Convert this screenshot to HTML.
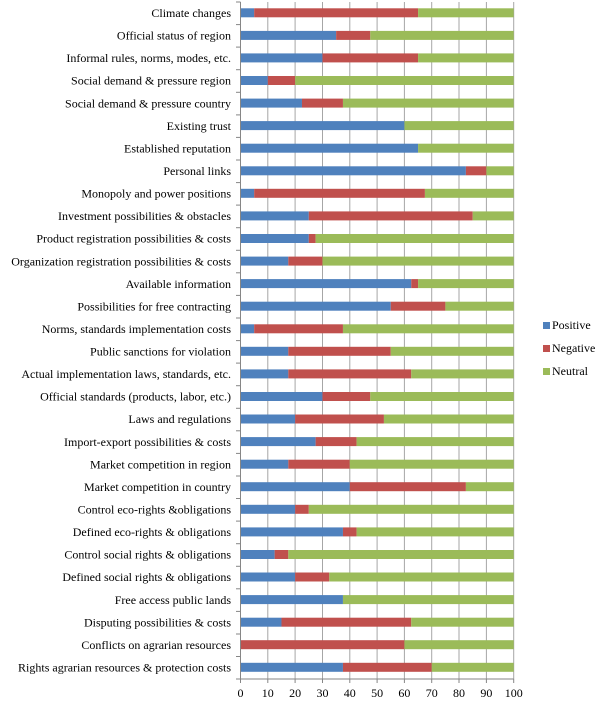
<!DOCTYPE html>
<html><head><meta charset="utf-8"><style>
html,body{margin:0;padding:0;background:#fff}
svg{display:block;font-family:"Liberation Serif",serif;font-size:12px}
</style></head><body>
<svg width="600" height="703" viewBox="0 0 600 703">
<g stroke="#a6a6a6" stroke-width="1">
<line x1="267.8" y1="2" x2="267.8" y2="679"/><line x1="295.1" y1="2" x2="295.1" y2="679"/><line x1="322.5" y1="2" x2="322.5" y2="679"/><line x1="349.8" y1="2" x2="349.8" y2="679"/><line x1="377.1" y1="2" x2="377.1" y2="679"/><line x1="404.4" y1="2" x2="404.4" y2="679"/><line x1="431.7" y1="2" x2="431.7" y2="679"/><line x1="459.0" y1="2" x2="459.0" y2="679"/><line x1="486.4" y1="2" x2="486.4" y2="679"/><line x1="513.7" y1="2" x2="513.7" y2="679"/>
</g>
<g transform="translate(240.5,0) scale(2.732,1)">
<g fill="#4f81bd">
<rect x="0" y="8.3" width="5" height="9"/><rect x="0" y="30.9" width="35" height="9"/><rect x="0" y="53.4" width="30" height="9"/><rect x="0" y="76" width="10" height="9"/><rect x="0" y="98.6" width="22.5" height="9"/><rect x="0" y="121.1" width="60" height="9"/><rect x="0" y="143.7" width="65" height="9"/><rect x="0" y="166.3" width="82.5" height="9"/><rect x="0" y="188.8" width="5" height="9"/><rect x="0" y="211.4" width="25" height="9"/><rect x="0" y="234" width="25" height="9"/><rect x="0" y="256.6" width="17.5" height="9"/><rect x="0" y="279.1" width="62.5" height="9"/><rect x="0" y="301.7" width="55" height="9"/><rect x="0" y="324.3" width="5" height="9"/><rect x="0" y="346.8" width="17.5" height="9"/><rect x="0" y="369.4" width="17.5" height="9"/><rect x="0" y="392" width="30" height="9"/><rect x="0" y="414.5" width="20" height="9"/><rect x="0" y="437.1" width="27.5" height="9"/><rect x="0" y="459.7" width="17.5" height="9"/><rect x="0" y="482.2" width="40" height="9"/><rect x="0" y="504.8" width="20" height="9"/><rect x="0" y="527.4" width="37.5" height="9"/><rect x="0" y="550" width="12.5" height="9"/><rect x="0" y="572.5" width="20" height="9"/><rect x="0" y="595.1" width="37.5" height="9"/><rect x="0" y="617.7" width="15" height="9"/><rect x="0" y="662.8" width="37.5" height="9"/>
</g>
<g fill="#c0504d">
<rect x="5" y="8.3" width="60" height="9"/><rect x="35" y="30.9" width="12.5" height="9"/><rect x="30" y="53.4" width="35" height="9"/><rect x="10" y="76" width="10" height="9"/><rect x="22.5" y="98.6" width="15" height="9"/><rect x="82.5" y="166.3" width="7.5" height="9"/><rect x="5" y="188.8" width="62.5" height="9"/><rect x="25" y="211.4" width="60" height="9"/><rect x="25" y="234" width="2.5" height="9"/><rect x="17.5" y="256.6" width="12.5" height="9"/><rect x="62.5" y="279.1" width="2.5" height="9"/><rect x="55" y="301.7" width="20" height="9"/><rect x="5" y="324.3" width="32.5" height="9"/><rect x="17.5" y="346.8" width="37.5" height="9"/><rect x="17.5" y="369.4" width="45" height="9"/><rect x="30" y="392" width="17.5" height="9"/><rect x="20" y="414.5" width="32.5" height="9"/><rect x="27.5" y="437.1" width="15" height="9"/><rect x="17.5" y="459.7" width="22.5" height="9"/><rect x="40" y="482.2" width="42.5" height="9"/><rect x="20" y="504.8" width="5" height="9"/><rect x="37.5" y="527.4" width="5" height="9"/><rect x="12.5" y="550" width="5" height="9"/><rect x="20" y="572.5" width="12.5" height="9"/><rect x="15" y="617.7" width="47.5" height="9"/><rect x="0" y="640.2" width="60" height="9"/><rect x="37.5" y="662.8" width="32.5" height="9"/>
</g>
<g fill="#9bbb59">
<rect x="65" y="8.3" width="35" height="9"/><rect x="47.5" y="30.9" width="52.5" height="9"/><rect x="65" y="53.4" width="35" height="9"/><rect x="20" y="76" width="80" height="9"/><rect x="37.5" y="98.6" width="62.5" height="9"/><rect x="60" y="121.1" width="40" height="9"/><rect x="65" y="143.7" width="35" height="9"/><rect x="90" y="166.3" width="10" height="9"/><rect x="67.5" y="188.8" width="32.5" height="9"/><rect x="85" y="211.4" width="15" height="9"/><rect x="27.5" y="234" width="72.5" height="9"/><rect x="30" y="256.6" width="70" height="9"/><rect x="65" y="279.1" width="35" height="9"/><rect x="75" y="301.7" width="25" height="9"/><rect x="37.5" y="324.3" width="62.5" height="9"/><rect x="55" y="346.8" width="45" height="9"/><rect x="62.5" y="369.4" width="37.5" height="9"/><rect x="47.5" y="392" width="52.5" height="9"/><rect x="52.5" y="414.5" width="47.5" height="9"/><rect x="42.5" y="437.1" width="57.5" height="9"/><rect x="40" y="459.7" width="60" height="9"/><rect x="82.5" y="482.2" width="17.5" height="9"/><rect x="25" y="504.8" width="75" height="9"/><rect x="42.5" y="527.4" width="57.5" height="9"/><rect x="17.5" y="550" width="82.5" height="9"/><rect x="32.5" y="572.5" width="67.5" height="9"/><rect x="37.5" y="595.1" width="62.5" height="9"/><rect x="62.5" y="617.7" width="37.5" height="9"/><rect x="60" y="640.2" width="40" height="9"/><rect x="70" y="662.8" width="30" height="9"/>
</g>
</g>
<g stroke="#868686" stroke-width="1">
<line x1="240.5" y1="2" x2="240.5" y2="679"/><line x1="240.5" y1="679" x2="513.7" y2="679"/>
<line x1="236" y1="2" x2="240.5" y2="2"/><line x1="236" y1="24.6" x2="240.5" y2="24.6"/><line x1="236" y1="47.1" x2="240.5" y2="47.1"/><line x1="236" y1="69.7" x2="240.5" y2="69.7"/><line x1="236" y1="92.3" x2="240.5" y2="92.3"/><line x1="236" y1="114.9" x2="240.5" y2="114.9"/><line x1="236" y1="137.4" x2="240.5" y2="137.4"/><line x1="236" y1="160" x2="240.5" y2="160"/><line x1="236" y1="182.6" x2="240.5" y2="182.6"/><line x1="236" y1="205.1" x2="240.5" y2="205.1"/><line x1="236" y1="227.7" x2="240.5" y2="227.7"/><line x1="236" y1="250.3" x2="240.5" y2="250.3"/><line x1="236" y1="272.8" x2="240.5" y2="272.8"/><line x1="236" y1="295.4" x2="240.5" y2="295.4"/><line x1="236" y1="318" x2="240.5" y2="318"/><line x1="236" y1="340.6" x2="240.5" y2="340.6"/><line x1="236" y1="363.1" x2="240.5" y2="363.1"/><line x1="236" y1="385.7" x2="240.5" y2="385.7"/><line x1="236" y1="408.3" x2="240.5" y2="408.3"/><line x1="236" y1="430.8" x2="240.5" y2="430.8"/><line x1="236" y1="453.4" x2="240.5" y2="453.4"/><line x1="236" y1="476" x2="240.5" y2="476"/><line x1="236" y1="498.5" x2="240.5" y2="498.5"/><line x1="236" y1="521.1" x2="240.5" y2="521.1"/><line x1="236" y1="543.7" x2="240.5" y2="543.7"/><line x1="236" y1="566.3" x2="240.5" y2="566.3"/><line x1="236" y1="588.8" x2="240.5" y2="588.8"/><line x1="236" y1="611.4" x2="240.5" y2="611.4"/><line x1="236" y1="634" x2="240.5" y2="634"/><line x1="236" y1="656.5" x2="240.5" y2="656.5"/><line x1="236" y1="679" x2="240.5" y2="679"/>
<line x1="240.5" y1="679" x2="240.5" y2="683"/><line x1="267.8" y1="679" x2="267.8" y2="683"/><line x1="295.1" y1="679" x2="295.1" y2="683"/><line x1="322.5" y1="679" x2="322.5" y2="683"/><line x1="349.8" y1="679" x2="349.8" y2="683"/><line x1="377.1" y1="679" x2="377.1" y2="683"/><line x1="404.4" y1="679" x2="404.4" y2="683"/><line x1="431.7" y1="679" x2="431.7" y2="683"/><line x1="459" y1="679" x2="459" y2="683"/><line x1="486.4" y1="679" x2="486.4" y2="683"/><line x1="513.7" y1="679" x2="513.7" y2="683"/>
</g>
<g text-anchor="end" fill="#000">
<text x="231" y="17">Climate changes</text><text x="231" y="39.6">Official status of region</text><text x="231" y="62.1">Informal rules, norms, modes, etc.</text><text x="231" y="84.7">Social demand &amp; pressure region</text><text x="231" y="107.3">Social demand &amp; pressure country</text><text x="231" y="129.8">Existing trust</text><text x="231" y="152.4">Established reputation</text><text x="231" y="175">Personal links</text><text x="231" y="197.5">Monopoly and power positions</text><text x="231" y="220.1">Investment possibilities &amp; obstacles</text><text x="231" y="242.7">Product registration possibilities &amp; costs</text><text x="231" y="265.3">Organization registration possibilities &amp; costs</text><text x="231" y="287.8">Available information</text><text x="231" y="310.4">Possibilities for free contracting</text><text x="231" y="333">Norms, standards implementation costs</text><text x="231" y="355.5">Public sanctions for violation</text><text x="231" y="378.1">Actual implementation laws, standards, etc.</text><text x="231" y="400.7">Official standards (products, labor, etc.)</text><text x="231" y="423.2">Laws and regulations</text><text x="231" y="445.8">Import-export possibilities &amp; costs</text><text x="231" y="468.4">Market competition in region</text><text x="231" y="490.9">Market competition in country</text><text x="231" y="513.5">Control eco-rights &amp;obligations</text><text x="231" y="536.1">Defined eco-rights &amp; obligations</text><text x="231" y="558.7">Control social rights &amp; obligations</text><text x="231" y="581.2">Defined social rights &amp; obligations</text><text x="231" y="603.8">Free access public lands</text><text x="231" y="626.4">Disputing possibilities &amp; costs</text><text x="231" y="648.9">Conflicts on agrarian resources</text><text x="231" y="671.5">Rights agrarian resources &amp; protection costs</text>
</g>
<g text-anchor="middle" fill="#000">
<text x="240.5" y="697">0</text><text x="267.8" y="697">10</text><text x="295.1" y="697">20</text><text x="322.5" y="697">30</text><text x="349.8" y="697">40</text><text x="377.1" y="697">50</text><text x="404.4" y="697">60</text><text x="431.7" y="697">70</text><text x="459" y="697">80</text><text x="486.4" y="697">90</text><text x="513.7" y="697">100</text>
</g>
<rect x="543" y="322" width="7" height="7" fill="#4f81bd"/><text x="552" y="329">Positive</text>
<rect x="543" y="345" width="7" height="7" fill="#c0504d"/><text x="552" y="352">Negative</text>
<rect x="543" y="368" width="7" height="7" fill="#9bbb59"/><text x="552" y="375">Neutral</text>
</svg>
</body></html>
